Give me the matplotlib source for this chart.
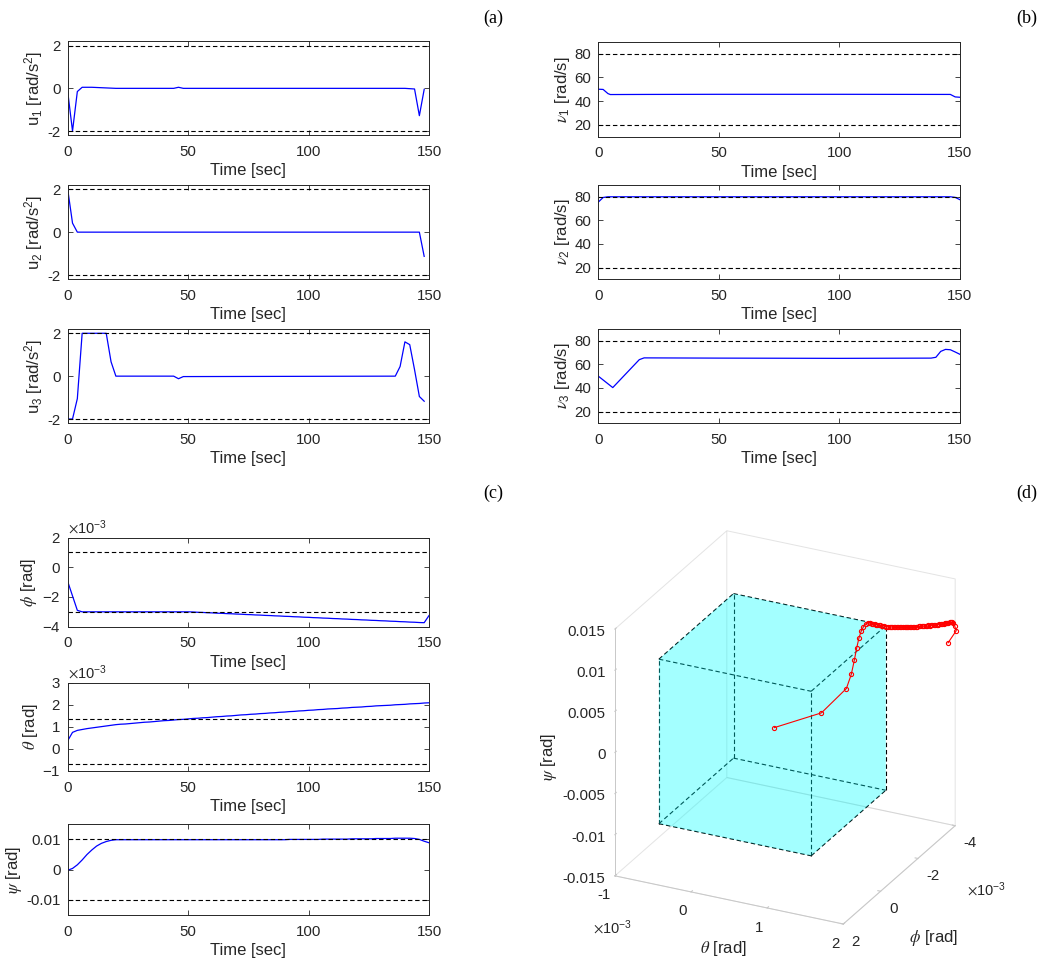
import numpy as np
import matplotlib
matplotlib.use('Agg')
import matplotlib.pyplot as plt
from matplotlib.ticker import ScalarFormatter
from mpl_toolkits.mplot3d.art3d import Poly3DCollection

plt.rcParams['font.family'] = ['Liberation Sans', 'DejaVu Sans']
plt.rcParams['mathtext.fontset'] = 'stix'
plt.rcParams['axes.unicode_minus'] = False

# ---- control inputs u (rad/s^2) ----
t_u1 = [0, 2, 4, 6, 10, 20, 44, 46, 48, 140, 144, 146, 148]
u1 = [-0.15, -2.0, -0.15, 0.05, 0.05, 0.0, 0.0, 0.05, 0.0, 0.0, -0.03, -1.28, -0.05]
t_u2 = [0, 2, 4, 146, 148]
u2 = [2.0, 0.42, 0.0, 0.0, -1.13]
t_u3 = [0, 2, 4, 6, 16, 18, 20, 44, 46, 48, 136, 138, 140, 142, 144, 146, 148]
u3 = [-2.0, -2.0, -1.05, 2.0, 2.0, 0.67, 0.0, 0.0, -0.12, -0.02, 0.0, 0.45, 1.6, 1.47, 0.3, -0.95, -1.17]
u_bounds = [-2, 2]

# ---- rotor speeds nu (rad/s) ----
t_nu1 = [0, 2, 4, 5, 20, 50, 100, 146, 148, 150]
nu1 = [50.0, 49.8, 46.3, 45.5, 45.6, 45.7, 45.7, 45.6, 43.5, 43.2]
t_nu2 = [0, 2, 4, 146, 148, 150]
nu2 = [75.5, 79.4, 80.0, 80.0, 79.5, 77.5]
t_nu3 = [0, 6, 17, 19, 50, 100, 138, 140, 142, 144, 146, 148, 150]
nu3 = [50.0, 40.3, 64.0, 65.5, 65.3, 65.1, 65.3, 66.0, 71.0, 72.7, 72.4, 70.5, 68.5]
nu_bounds = [20, 80]

# ---- attitude, sampled every 2 s (phi, theta in 1e-3 rad) ----
t_x = np.arange(0, 151, 2)
phi_e3 = [-0.96, -1.93, -2.90,
          -3.00, -3.00, -3.00, -3.00, -3.00, -3.00, -3.00, -3.00, -3.00, -3.00, -3.00, -3.00,
          -3.00, -3.00, -3.00, -3.00, -3.00, -3.00, -3.00, -3.00, -3.00, -3.00, -3.00,
          -3.01, -3.03, -3.04, -3.06, -3.07, -3.09, -3.10, -3.12, -3.13, -3.15,
          -3.16, -3.18, -3.19, -3.21, -3.22, -3.24, -3.25, -3.27, -3.28, -3.30,
          -3.31, -3.33, -3.34, -3.36, -3.37, -3.39, -3.40, -3.42, -3.43, -3.45,
          -3.46, -3.48, -3.49, -3.51, -3.52, -3.54, -3.55, -3.57, -3.58, -3.60,
          -3.61, -3.63, -3.64, -3.66, -3.67, -3.69, -3.70, -3.72, -3.73,
          -3.25]
theta_e3 = [0.37, 0.75, 0.84, 0.88, 0.92, 0.95, 0.98, 1.01, 1.04, 1.07, 1.10,
            1.12, 1.13, 1.15, 1.17, 1.19, 1.21, 1.22, 1.24, 1.26, 1.28,
            1.29, 1.31, 1.33, 1.34, 1.36, 1.38, 1.39, 1.41, 1.42, 1.44,
            1.46, 1.47, 1.49, 1.50, 1.52, 1.54, 1.55, 1.57, 1.58, 1.60,
            1.61, 1.63, 1.64, 1.66, 1.67, 1.69, 1.70, 1.72, 1.73, 1.75,
            1.76, 1.78, 1.79, 1.81, 1.82, 1.83, 1.85, 1.86, 1.88, 1.89,
            1.90, 1.92, 1.93, 1.95, 1.96, 1.97, 1.98, 2.00, 2.01, 2.02,
            2.04, 2.05, 2.06, 2.08, 2.09]
psi = [-0.0002, 0.0004, 0.0016, 0.0032, 0.0050, 0.0065, 0.0078, 0.0087, 0.0093, 0.0097, 0.0099,
       0.0099, 0.0099, 0.0099, 0.0099, 0.0099, 0.0099, 0.0099, 0.0099, 0.0099, 0.0099,
       0.0099, 0.0099, 0.0099, 0.0099, 0.0099, 0.0099, 0.0099, 0.0099, 0.0099, 0.0099,
       0.0099, 0.0099, 0.0099, 0.0099, 0.0099, 0.0099, 0.0099, 0.0099, 0.0099, 0.0099,
       0.0099, 0.0099, 0.0099, 0.0099, 0.0099,
       0.0100, 0.0100, 0.0100, 0.0100, 0.0100, 0.0100, 0.0100,
       0.0101, 0.0101, 0.0101, 0.0101, 0.0101, 0.0101,
       0.0102, 0.0102, 0.0102, 0.0102, 0.0102,
       0.0103, 0.0103, 0.0103, 0.0103,
       0.0104, 0.0104, 0.0104,
       0.0104, 0.0103, 0.0100, 0.0094, 0.0089]
phi = np.array(phi_e3) * 1e-3
theta = np.array(theta_e3) * 1e-3
phi_bounds = [-3e-3, 1e-3]
theta_bounds = [-0.667e-3, 1.333e-3]
psi_bounds = [-0.01, 0.01]

W, H = 1047, 964
fig = plt.figure(figsize=(W / 100, H / 100), dpi=100)
dark = '#262626'
dash = (0, (4, 2.5))


def px_axes(left, top, right, bottom):
    return fig.add_axes([left / W, 1 - bottom / H, (right - left) / W, (bottom - top) / H])


def style(ax, t, y, bounds, ylim, yticks, ylabel, yticklabels=None, sci=False):
    ax.plot(t, y, color='b', lw=0.9)
    for b in bounds:
        ax.axhline(b, color='k', ls=dash, lw=0.8)
    ax.set_xlim(0, 150)
    ax.set_xticks([0, 50, 100, 150])
    ax.set_ylim(*ylim)
    if yticklabels is None:
        ax.set_yticks(yticks)
    else:
        ax.set_yticks(yticks, yticklabels)
    if sci:
        fmt = ScalarFormatter(useMathText=True)
        fmt.set_powerlimits((-2, 2))
        ax.yaxis.set_major_formatter(fmt)
        ax.yaxis.get_offset_text().set_fontsize(10.5)
        ax.yaxis.get_offset_text().set_color(dark)
    ax.tick_params(direction='in', top=True, right=True, length=3.5, width=0.6,
                   labelsize=10.8, colors=dark, pad=5)
    ax.tick_params(axis='x', pad=7)
    for s in ax.spines.values():
        s.set_linewidth(0.7)
        s.set_color(dark)
    ax.set_xlabel('Time [sec]', fontsize=12, color=dark, labelpad=3)
    ax.set_ylabel(ylabel, fontsize=12, color=dark, labelpad=2)


# (a)
ax = px_axes(67.7, 41.4, 429, 135.3)
style(ax, t_u1, u1, u_bounds, (-2.2, 2.2), [-2, 0, 2], r'$\mathregular{u_1}$ [rad/s$\mathregular{^2}$]')
ax = px_axes(67.7, 185, 429, 279.3)
style(ax, t_u2, u2, u_bounds, (-2.2, 2.2), [-2, 0, 2], r'$\mathregular{u_2}$ [rad/s$\mathregular{^2}$]')
ax = px_axes(67.7, 329, 429, 423.3)
style(ax, t_u3, u3, u_bounds, (-2.2, 2.2), [-2, 0, 2], r'$\mathregular{u_3}$ [rad/s$\mathregular{^2}$]')

# (b)
ax = px_axes(598.3, 41.7, 960, 136.7)
style(ax, t_nu1, nu1, nu_bounds, (10, 90), [20, 40, 60, 80], r'$\nu_\mathregular{1}$ [rad/s]')
ax = px_axes(598.3, 185, 960, 279.3)
style(ax, t_nu2, nu2, nu_bounds, (10, 90), [20, 40, 60, 80], r'$\nu_\mathregular{2}$ [rad/s]')
ax = px_axes(598.3, 329, 960, 423.3)
style(ax, t_nu3, nu3, nu_bounds, (10, 90), [20, 40, 60, 80], r'$\nu_\mathregular{3}$ [rad/s]')

# (c)
ax = px_axes(67.7, 537.5, 429, 626.7)
style(ax, t_x, phi, phi_bounds, (-4e-3, 2e-3), [-4e-3, -2e-3, 0, 2e-3], r'$\phi$ [rad]', sci=True)
ax = px_axes(67.7, 682.7, 429, 771)
style(ax, t_x, theta, theta_bounds, (-1e-3, 3e-3), [-1e-3, 0, 1e-3, 2e-3, 3e-3], r'$\theta$ [rad]', sci=True)
ax = px_axes(67.7, 824.3, 429, 915)
style(ax, t_x, psi, psi_bounds, (-0.015, 0.015), [-0.01, 0, 0.01], r'$\psi$ [rad]',
      yticklabels=['-0.01', '0', '0.01'])

# (d) 3D trajectory with the attitude constraint box
# phi axis runs reversed (2 in front, -4 at the back): plot -phi on a normal axis
ax3 = fig.add_axes([0.5347, 0.0118, 0.4189, 0.455], projection='3d', proj_type='ortho')
ax3.patch.set_alpha(0)
ax3.view_init(elev=25.5, azim=-63.9)
ax3.set_box_aspect((1, 1, 1.075))

x0, x1 = theta_bounds
y0, y1 = -phi_bounds[1], -phi_bounds[0]
z0, z1 = psi_bounds
faces = [
    [(x0, y0, z0), (x1, y0, z0), (x1, y1, z0), (x0, y1, z0)],
    [(x0, y0, z1), (x1, y0, z1), (x1, y1, z1), (x0, y1, z1)],
    [(x0, y0, z0), (x1, y0, z0), (x1, y0, z1), (x0, y0, z1)],
    [(x0, y1, z0), (x1, y1, z0), (x1, y1, z1), (x0, y1, z1)],
    [(x0, y0, z0), (x0, y1, z0), (x0, y1, z1), (x0, y0, z1)],
    [(x1, y0, z0), (x1, y1, z0), (x1, y1, z1), (x1, y0, z1)],
]
ax3.add_collection3d(Poly3DCollection(faces, facecolor=(0, 1, 1, 0.2), edgecolor='none'))
for yy in (y0, y1):
    for zz in (z0, z1):
        ax3.plot([x0, x1], [yy, yy], [zz, zz], color='k', ls=dash, lw=0.8)
for xx in (x0, x1):
    for zz in (z0, z1):
        ax3.plot([xx, xx], [y0, y1], [zz, zz], color='k', ls=dash, lw=0.8)
for xx in (x0, x1):
    for yy in (y0, y1):
        ax3.plot([xx, xx], [yy, yy], [z0, z1], color='k', ls=dash, lw=0.8)

ax3.plot(theta, -phi, psi, color='r', lw=0.8, marker='o', ms=3, mfc='none', mew=0.8, zorder=10)

ax3.set_xlim(-1e-3, 2e-3)
ax3.set_ylim(-2e-3, 4e-3)
ax3.set_zlim(-0.015, 0.015)
ax3.set_xticks([-1e-3, 0, 1e-3, 2e-3], ['-1', '0', '1', '2'])
ax3.set_yticks([-2e-3, 0, 2e-3, 4e-3], ['2', '0', '-2', '-4'])
ax3.set_zticks([-0.015, -0.01, -0.005, 0, 0.005, 0.01, 0.015],
               ['-0.015', '-0.01', '-0.005', '0', '0.005', '0.01', '0.015'])
ax3.zaxis.set_ticks_position('lower')
ax3.grid(False)
for axis in (ax3.xaxis, ax3.yaxis, ax3.zaxis):
    axis.pane.fill = False
    axis.pane.set_edgecolor('#c8c8c8')
    axis.pane.set_linewidth(0.7)
    axis.line.set_color('#c8c8c8')
    axis.line.set_linewidth(0.7)
    axis._axinfo['tick']['inward_factor'] = 0.0
    axis._axinfo['tick']['outward_factor'] = 0.15
ax3.tick_params(labelsize=10.8, labelcolor=dark, colors='#c8c8c8')
ax3.tick_params(axis='x', pad=-2)
ax3.tick_params(axis='y', pad=-2)
ax3.tick_params(axis='z', pad=-3.5)
plt.setp(ax3.get_xticklabels(), ha='right')
plt.setp(ax3.get_yticklabels(), ha='left')
plt.setp(ax3.get_zticklabels(), ha='right', va='center_baseline')

fig.text(723 / W, 1 - 949 / H, r'$\theta$ [rad]', fontsize=12, color=dark, ha='center', va='center')
fig.text(934 / W, 1 - 938 / H, r'$\phi$ [rad]', fontsize=12, color=dark, ha='center', va='center')
fig.text(549 / W, 1 - 757 / H, r'$\psi$ [rad]', fontsize=12, color=dark, ha='center', va='center', rotation=90)
fig.text(593 / W, 1 - 928 / H, r'$\times\mathregular{10^{-3}}$', fontsize=10.5, color=dark, ha='left', va='center')
fig.text(967 / W, 1 - 890 / H, r'$\times\mathregular{10^{-3}}$', fontsize=10.5, color=dark, ha='left', va='center')

for lab, x, y in [('(a)', 493, 18), ('(b)', 1027, 18), ('(c)', 493, 493), ('(d)', 1027, 493)]:
    fig.text(x / W, 1 - y / H, lab, fontsize=13, family='Liberation Serif', ha='center', va='center')

fig.savefig('out.png', dpi=100)
